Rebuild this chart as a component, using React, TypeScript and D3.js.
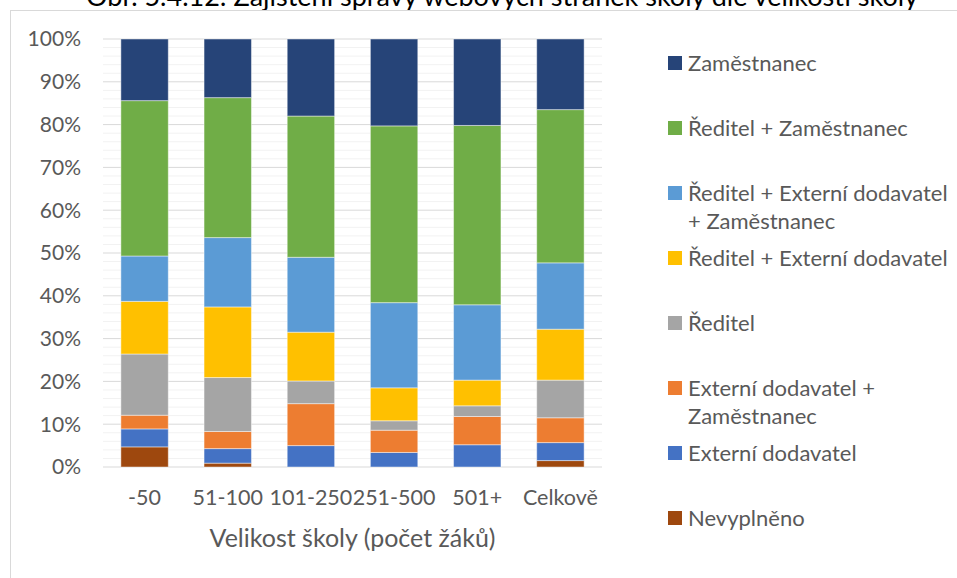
import React from "react"
import * as d3 from "d3"

// categories on x axis
const categories = ["-50", "51-100", "101-250", "251-500", "501+", "Celkově"]

// series, bottom to top of the stack
const seriesNames = [
  "Nevyplněno",
  "Externí dodavatel",
  "Externí dodavatel + Zaměstnanec",
  "Ředitel",
  "Ředitel + Externí dodavatel",
  "Ředitel + Externí dodavatel + Zaměstnanec",
  "Ředitel + Zaměstnanec",
  "Zaměstnanec",
]
const seriesColors = ["#9E480E", "#4472C4", "#ED7D31", "#A5A5A5", "#FFC000", "#5B9BD5", "#70AD47", "#264478"]

// percentages per category, one array per series
const nevyplneno = [4.7, 0.9, 0, 0, 0, 1.5]
const externi = [4.2, 3.4, 5.0, 3.4, 5.2, 4.2]
const externiZam = [3.2, 4.0, 9.8, 5.2, 6.6, 5.8]
const reditel = [14.3, 12.6, 5.3, 2.2, 2.5, 8.8]
const reditelExt = [12.3, 16.5, 11.4, 7.7, 6.0, 11.9]
const reditelExtZam = [10.6, 16.2, 17.5, 19.9, 17.6, 15.5]
const reditelZam = [36.3, 32.7, 33.0, 41.3, 41.9, 35.8]
const zamestnanec = [14.4, 13.7, 18.0, 20.3, 20.2, 16.5]

const yTicks = [0, 10, 20, 30, 40, 50, 60, 70, 80, 90, 100]

// legend text, top to bottom (may wrap into lines)
const legendLines = [
  ["Zaměstnanec"],
  ["Ředitel + Zaměstnanec"],
  ["Ředitel + Externí dodavatel", "+ Zaměstnanec"],
  ["Ředitel + Externí dodavatel"],
  ["Ředitel"],
  ["Externí dodavatel +", "Zaměstnanec"],
  ["Externí dodavatel"],
  ["Nevyplněno"],
]

const FONT = "Lato, 'Open Sans', sans-serif"

export default function App() {
  const W = 957, H = 578
  const left = 103, right = 602, top = 39, bottom = 467

  const values = [nevyplneno, externi, externiZam, reditel, reditelExt, reditelExtZam, reditelZam, zamestnanec]
  const rows = categories.map((c, i) => {
    const r: any = { cat: c }
    seriesNames.forEach((s, k) => (r[s] = values[k][i]))
    return r
  })
  // normalise to 100% like Excel does
  const stack = d3.stack<any>().keys(seriesNames).offset(d3.stackOffsetExpand)(rows)

  const x = d3.scaleBand().domain(categories).range([left, right]).paddingInner(0.43).paddingOuter(0.215)
  const y = d3.scaleLinear().domain([0, 1]).range([bottom, top])
  const minor = d3.range(0, 100, 2).filter((v) => v % 10 !== 0)

  const legendY = d3.scaleLinear().domain([0, 7]).range([63, 518])

  return (
    <svg width={W} height={H} style={{ position: "absolute", left: 0, top: 0, background: "#fff" }} fontFamily={FONT}>
      <text x={502} y={6} textAnchor="middle" fontSize={27} fill="#000">
        Obr. 5.4.12: Zajištění správy webových stránek školy dle velikosti školy
      </text>
      <rect x={10.5} y={10.5} width={W + 20} height={H + 20} fill="#fff" stroke="#d9d9d9" />

      {minor.map((v) => (
        <line key={"m" + v} x1={left} x2={right} y1={y(v / 100)} y2={y(v / 100)} stroke="#f2f2f2" strokeWidth={1} />
      ))}
      {yTicks.map((v) => (
        <g key={v}>
          <line x1={left} x2={right} y1={y(v / 100)} y2={y(v / 100)} stroke="#d9d9d9" strokeWidth={1} />
          <text x={81} y={y(v / 100)} dy="0.35em" textAnchor="end" fontSize={21} fill="#595959">
            {v}%
          </text>
        </g>
      ))}

      {stack.map((layer, k) => (
        <g key={layer.key} fill={seriesColors[k]}>
          {layer.map((d, i) => (
            <rect
              key={i}
              x={x(categories[i])}
              width={x.bandwidth()}
              y={y(d[1])}
              height={Math.max(0, y(d[0]) - y(d[1]))}
              stroke="#fff"
              strokeOpacity={0.45}
              strokeWidth={1}
            />
          ))}
        </g>
      ))}

      {categories.map((c) => (
        <text key={c} x={(x(c) as number) + x.bandwidth() / 2} y={497} dy="0.35em" textAnchor="middle" fontSize={21.5} fill="#595959">
          {c}
        </text>
      ))}
      <text x={(left + right) / 2} y={538} dy="0.35em" textAnchor="middle" fontSize={25} fill="#595959">
        Velikost školy (počet žáků)
      </text>

      {legendLines.map((lines, i) => (
        <g key={i} transform={`translate(668,${legendY(i)})`}>
          <rect x={0} y={-7} width={14} height={14} fill={seriesColors[7 - i]} />
          {lines.map((t, j) => (
            <text key={j} x={20} y={j * 28.5} dy="0.35em" fontSize={22} fill="#595959">
              {t}
            </text>
          ))}
        </g>
      ))}
    </svg>
  )
}
